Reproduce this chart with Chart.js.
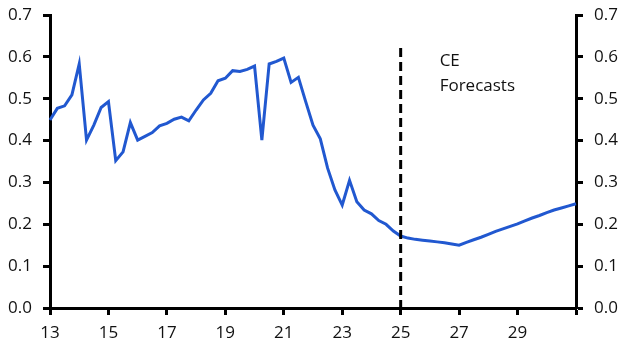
<!DOCTYPE html>
<html>
<head>
<meta charset="utf-8">
<script src="https://cdn.jsdelivr.net/npm/chart.js@4"></script>
<style>
  html, body { margin: 0; padding: 0; background: #fff; }
  #wrap { width: 633px; height: 352px; position: relative; }
</style>
</head>
<body>
<div id="wrap"><canvas id="chart"></canvas></div>
<script>
// quarterly series, 2013 Q1 .. 2031 Q1
const firstYear = 2013;
const lastYear = 2031;
const quarters = ["Q1", "Q2", "Q3", "Q4"];

const values = [
  0.449, 0.477, 0.483, 0.509,
  0.583, 0.401, 0.437, 0.479,
  0.493, 0.352, 0.373, 0.443,
  0.401, 0.410, 0.419, 0.435,
  0.441, 0.451, 0.456, 0.447,
  0.473, 0.497, 0.513, 0.543,
  0.549, 0.567, 0.565, 0.570,
  0.578, 0.401, 0.583, 0.589,
  0.597, 0.539, 0.551, 0.493,
  0.437, 0.404, 0.334, 0.282,
  0.246, 0.305, 0.254, 0.234,
  0.225, 0.209, 0.200, 0.184,
  0.172, 0.167, 0.164, 0.162,
  0.160, 0.158, 0.156, 0.153,
  0.150, 0.157, 0.163, 0.169,
  0.176, 0.183, 0.189, 0.195,
  0.201, 0.208, 0.215, 0.221,
  0.228, 0.234, 0.239, 0.244,
  0.249
];

const yTicks = [0, 0.1, 0.2, 0.3, 0.4, 0.5, 0.6, 0.7];
const forecastStart = "2025 Q1";
const forecastText = ["CE", "Forecasts"];

const labels = [];
for (let y = firstYear; y <= lastYear; y++) {
  quarters.forEach(q => labels.push(y + " " + q));
}
labels.length = values.length;

const FONT = { family: "'Open Sans', 'Noto Sans', sans-serif", size: 17 };

// dashed forecast divider + annotation
const forecastLine = {
  id: "forecastLine",
  afterDatasetsDraw(chart) {
    const { ctx, scales: { x, y } } = chart;
    const px = x.getPixelForValue(labels.indexOf(forecastStart));
    ctx.save();
    ctx.strokeStyle = "#000";
    ctx.lineWidth = 3;
    ctx.setLineDash([9, 5]);
    ctx.beginPath();
    ctx.moveTo(px, 48);
    ctx.lineTo(px, y.bottom);
    ctx.stroke();
    ctx.setLineDash([]);
    ctx.fillStyle = "#111";
    ctx.font = FONT.size + "px " + FONT.family;
    ctx.textBaseline = "middle";
    ctx.fillText(forecastText[0], px + 39, 61);
    ctx.fillText(forecastText[1], px + 39, 86);
    ctx.restore();
  }
};

const yAxis = (pos, width) => ({
  position: pos,
  min: 0,
  max: 0.7,
  afterFit: s => { s.width = width; s.paddingTop = 0; s.paddingBottom = 0; },
  afterBuildTicks: s => { s.ticks = yTicks.map(v => ({ value: v })); },
  ticks: {
    color: "#111",
    font: FONT,
    padding: 11,
    callback: v => v.toFixed(1)
  },
  grid: {
    drawOnChartArea: false,
    drawTicks: true,
    tickLength: 7,
    tickWidth: 3,
    tickColor: "#000"
  },
  border: { display: true, color: "#000", width: 3 }
});

new Chart(document.getElementById("chart"), {
  type: "line",
  data: {
    labels: labels,
    datasets: [{
      data: values,
      borderColor: "#2158d0",
      borderWidth: 3,
      pointRadius: 0,
      tension: 0,
      fill: false
    }]
  },
  options: {
    responsive: true,
    maintainAspectRatio: false,
    animation: false,
    layout: { padding: { top: 15, left: 0, right: 0, bottom: 0 } },
    plugins: { legend: { display: false }, tooltip: { enabled: false } },
    scales: {
      x: {
        type: "category",
        offset: false,
        afterFit: s => { s.height = 44; },
        ticks: {
          color: "#111",
          font: FONT,
          autoSkip: false,
          maxRotation: 0,
          padding: 8,
          callback: function (v, i) {
            const lab = labels[i];
            const yr = parseInt(lab, 10);
            if (!lab.endsWith("Q1") || yr % 2 === 0) return null;
            return yr === lastYear ? "" : String(yr).slice(2);
          }
        },
        grid: {
          drawOnChartArea: false,
          drawTicks: true,
          tickLength: 7,
          tickWidth: 3,
          tickColor: "#000"
        },
        border: { display: true, color: "#000", width: 3 }
      },
      y: yAxis("left", 50),
      y2: yAxis("right", 57)
    }
  },
  plugins: [forecastLine]
});
</script>
</body>
</html>
